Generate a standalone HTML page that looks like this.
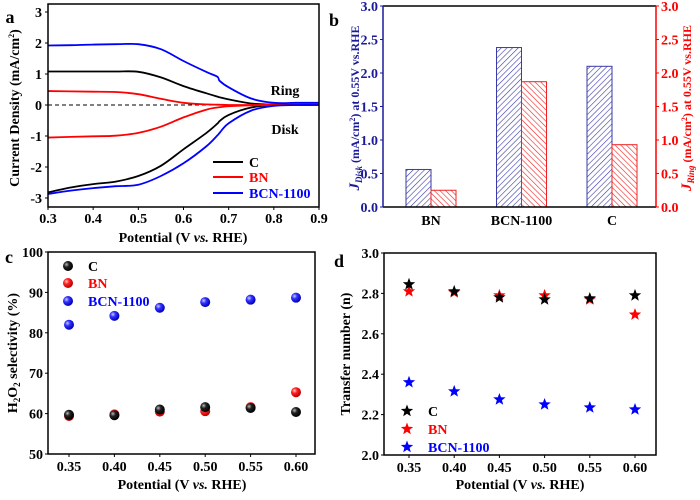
<!DOCTYPE html>
<html><head><meta charset="utf-8"><style>
html,body{margin:0;padding:0;background:#fff;}
svg text{font-family:"Liberation Serif",serif;font-weight:bold;}
</style></head><body>
<svg id="fig" width="700" height="495" viewBox="0 0 700 495" xmlns="http://www.w3.org/2000/svg">
<defs>
<pattern id="hatchB" width="4" height="4" patternUnits="userSpaceOnUse" patternTransform="rotate(45)"><line x1="0" y1="0" x2="0" y2="4" stroke="#3a3aa8" stroke-width="1.2"/></pattern>
<pattern id="hatchR" width="4" height="4" patternUnits="userSpaceOnUse" patternTransform="rotate(-45)"><line x1="0" y1="0" x2="0" y2="4" stroke="#f02020" stroke-width="1.2"/></pattern>
<radialGradient id="gK" cx="35%" cy="35%" r="65%"><stop offset="0" stop-color="#bbb"/><stop offset="0.4" stop-color="#222"/><stop offset="1" stop-color="#000"/></radialGradient>
<radialGradient id="gR" cx="35%" cy="35%" r="65%"><stop offset="0" stop-color="#fcc"/><stop offset="0.4" stop-color="#f22"/><stop offset="1" stop-color="#b00"/></radialGradient>
<radialGradient id="gB" cx="35%" cy="35%" r="65%"><stop offset="0" stop-color="#ccf"/><stop offset="0.4" stop-color="#33f"/><stop offset="1" stop-color="#00b"/></radialGradient>
</defs>
</svg>
<script>
// ---- Panel a data ----
const aX = [0.30,0.35,0.40,0.45,0.50,0.55,0.60,0.65,0.675,0.68,0.70,0.75,0.80,0.85,0.90];
const aCRing = [1.08,1.08,1.08,1.08,1.07,0.89,0.61,0.38,0.27,0.25,0.18,0.05,0.01,0.01,0.01];
const aBNRing = [0.45,0.44,0.43,0.42,0.35,0.20,0.07,0.02,0.01,0.01,0.00,0.00,0.00,0.00,0.00];
const aBCNRing = [1.92,1.93,1.95,1.96,1.96,1.80,1.42,1.07,0.91,0.78,0.57,0.21,0.07,0.07,0.07];
const aCDisk = [-2.82,-2.66,-2.55,-2.47,-2.29,-1.96,-1.43,-0.91,-0.6,-0.52,-0.32,-0.08,0.0,0.0,0.0];
const aBNDisk = [-1.05,-1.03,-1.01,-0.99,-0.90,-0.70,-0.40,-0.15,-0.08,-0.07,-0.04,-0.01,0.0,0.0,0.0];
const aBCNDisk = [-2.87,-2.76,-2.68,-2.62,-2.57,-2.29,-1.88,-1.34,-0.98,-0.9,-0.59,-0.18,-0.03,0.0,0.0];
const aXTicks = [0.3,0.4,0.5,0.6,0.7,0.8,0.9];
const aYTicks = [-3,-2,-1,0,1,2,3];
// ---- Panel b data ----
const bCats = ["BN","BCN-1100","C"];
const bDisk = [0.56,2.38,2.10];
const bRing = [0.25,1.87,0.93];
const bYTicks = ["0.0","0.5","1.0","1.5","2.0","2.5","3.0"];
// ---- Panel c/d data ----
const cdX = [0.35,0.40,0.45,0.50,0.55,0.60];
const cC = [59.7,59.6,61.0,61.6,61.4,60.4];
const cBN = [59.4,59.8,60.5,60.6,61.6,65.3];
const cBCN = [82.0,84.2,86.2,87.6,88.2,88.7];
const cYTicks = [50,60,70,80,90,100];
const dC = [2.845,2.81,2.78,2.77,2.775,2.79];
const dBN = [2.81,2.805,2.79,2.79,2.77,2.695];
const dBCN = [2.36,2.315,2.275,2.25,2.235,2.225];
const dYTicks = ["2.0","2.2","2.4","2.6","2.8","3.0"];
const cdXTicks = ["0.35","0.40","0.45","0.50","0.55","0.60"];

const svg = document.getElementById('fig');
const NS = 'http://www.w3.org/2000/svg';
const TF = 14;
function mk(tag, attrs, parent){const e=document.createElementNS(NS,tag);for(const k in attrs)e.setAttribute(k,attrs[k]);(parent||svg).appendChild(e);return e;}
function txt(s,x,y,size,fill,anchor,parent){const t=mk('text',{x:x,y:y,'font-size':size,fill:fill||'#000','text-anchor':anchor||'middle'},parent);t.textContent=s;return t;}
function lin(d0,d1,r0,r1){return v=>r0+(v-d0)/(d1-d0)*(r1-r0);}
function smooth(pts){let d='M'+pts[0][0]+','+pts[0][1];for(let i=0;i<pts.length-1;i++){const p0=pts[Math.max(0,i-1)],p1=pts[i],p2=pts[i+1],p3=pts[Math.min(pts.length-1,i+2)];
 const c1=[p1[0]+(p2[0]-p0[0])/6,p1[1]+(p2[1]-p0[1])/6],c2=[p2[0]-(p3[0]-p1[0])/6,p2[1]-(p3[1]-p1[1])/6];
 d+=' C'+c1[0].toFixed(1)+','+c1[1].toFixed(1)+' '+c2[0].toFixed(1)+','+c2[1].toFixed(1)+' '+p2[0].toFixed(1)+','+p2[1].toFixed(1);}return d;}

// ===== Panel a =====
{
const g=mk('g',{});
const X=lin(0.3,0.9,48,319), Y=lin(0,1,105,74);
const L=48,R=319,T=4,B=207;
const lines=[[aCRing,'#000'],[aBNRing,'#f00'],[aBCNRing,'#00f'],[aCDisk,'#000'],[aBNDisk,'#f00'],[aBCNDisk,'#00f']];
const names=['c-ring-curve','bn-ring-curve','bcn-ring-curve','c-disk-curve','bn-disk-curve','bcn-disk-curve'];
mk('line',{x1:L,y1:Y(0),x2:R,y2:Y(0),stroke:'#000','stroke-dasharray':'4,3','stroke-width':1},g);
lines.forEach((l,i)=>{const p=mk('path',{d:smooth(aX.map((x,j)=>[X(x),Y(l[0][j])])),fill:'none',stroke:l[1],'stroke-width':1.8},g);});
mk('rect',{x:L,y:T,width:R-L,height:B-T,fill:'none',stroke:'#000','stroke-width':1.5},g);
aXTicks.forEach(v=>{mk('line',{x1:X(v),y1:B,x2:X(v),y2:B+3,stroke:'#000'},g);txt(v.toFixed(1),X(v),B+16,TF,'#000','middle',g);});
aYTicks.forEach(v=>{mk('line',{x1:L-3,y1:Y(v),x2:L,y2:Y(v),stroke:'#000'},g);txt(String(v),L-6,Y(v)+5,TF,'#000','end',g);});
const xt=txt('',183,242,14,'#000','middle',g);xt.innerHTML='Potential (V <tspan font-style="italic">vs.</tspan> RHE)';
const yt=txt('',0,0,14,'#000','middle',g);yt.setAttribute('transform','translate(19,108) rotate(-90)');yt.innerHTML='Current Density (mA/cm<tspan font-size="8" dy="-5">2</tspan><tspan dy="5">)</tspan>';
txt('a',10,23,18,'#000','middle',g);
txt('Ring',285,95,14,'#000','middle',g);txt('Disk',285,134,14,'#000','middle',g);
[['C','#000',162],['BN','#f00',177],['BCN-1100','#00f',193]].forEach(l=>{const lg=mk('g',{},g);mk('line',{x1:213,y1:l[2],x2:243,y2:l[2],stroke:l[1],'stroke-width':2},lg);txt(l[0],249,l[2]+5,14,l[1],'start',lg);});
}

// ===== Panel b =====
{
const g=mk('g',{});
const L=383,R=656,T=6,B=207;
const Y=lin(0,3,B,T);
const cx=i=>431+i*90.5;
bCats.forEach((c,i)=>{
 const b1=mk('rect',{x:cx(i)-25,y:Y(bDisk[i]),width:25,height:B-Y(bDisk[i]),fill:'url(#hatchB)',stroke:'#3a3aa8','stroke-width':1},g);
 
 const b2=mk('rect',{x:cx(i),y:Y(bRing[i]),width:25,height:B-Y(bRing[i]),fill:'url(#hatchR)',stroke:'#f02020','stroke-width':1},g);
 
 txt(c,cx(i),B+18,TF,'#000','middle',g);
});
mk('line',{x1:L,y1:T,x2:R,y2:T,stroke:'#000','stroke-width':1.5},g);
mk('line',{x1:L,y1:B,x2:R,y2:B,stroke:'#000','stroke-width':1.5},g);
mk('line',{x1:L,y1:T,x2:L,y2:B,stroke:'#1a1a9a','stroke-width':1.5},g);
mk('line',{x1:R,y1:T,x2:R,y2:B,stroke:'#f00','stroke-width':1.5},g);
bYTicks.forEach(s=>{const v=parseFloat(s);mk('line',{x1:L-3,y1:Y(v),x2:L,y2:Y(v),stroke:'#1a1a9a'},g);txt(s,L-5,Y(v)+5,TF,'#1a1a9a','end',g);
 mk('line',{x1:R,y1:Y(v),x2:R+3,y2:Y(v),stroke:'#f00'},g);txt(s,R+5,Y(v)+5,TF,'#f00','start',g);});
const yl=txt('',0,0,12,'#1a1a9a','middle',g);yl.setAttribute('transform','translate(359,108) rotate(-90)');yl.innerHTML='<tspan font-style="italic" font-size="15">J</tspan><tspan font-style="italic" font-size="9" dy="3">Disk</tspan><tspan dy="-3"> (mA/cm</tspan><tspan font-size="8" dy="-4">2</tspan><tspan dy="4">) at 0.55V vs.RHE</tspan>';
const yr=txt('',0,0,12,'#f00','middle',g);yr.setAttribute('transform','translate(691,108) rotate(-90)');yr.innerHTML='<tspan font-style="italic" font-size="15">J</tspan><tspan font-style="italic" font-size="9" dy="3">Ring</tspan><tspan dy="-3"> (mA/cm</tspan><tspan font-size="8" dy="-4">2</tspan><tspan dy="4">) at 0.55V vs.RHE</tspan>';
txt('b',334,26,18,'#000','middle',g);
}

// ===== Panel c =====
{
const g=mk('g',{});
const L=48,R=315,T=252,B=454;
const X=lin(0.35,0.60,69,296), Y=lin(50,100,B,T);
mk('rect',{x:L,y:T,width:R-L,height:B-T,fill:'none',stroke:'#000','stroke-width':1.5},g);
cdXTicks.forEach(s=>{const v=parseFloat(s);mk('line',{x1:X(v),y1:B,x2:X(v),y2:B+3,stroke:'#000'},g);txt(s,X(v),B+17,TF,'#000','middle',g);});
cYTicks.forEach(v=>{mk('line',{x1:L-3,y1:Y(v),x2:L,y2:Y(v),stroke:'#000'},g);txt(String(v),L-5,Y(v)+5,TF,'#000','end',g);});
[[cBCN,'gB','bcn'],[cBN,'gR','bn'],[cC,'gK','c']].forEach(s=>{cdX.forEach((x,j)=>{const c=mk('circle',{cx:X(x),cy:Y(s[0][j]),r:5,fill:'url(#'+s[1]+')'},g);});});
[['C','gK','#000',266],['BN','gR','#f00',283],['BCN-1100','gB','#00f',301]].forEach(l=>{const lg=mk('g',{},g);mk('circle',{cx:68,cy:l[3],r:5,fill:'url(#'+l[1]+')'},lg);txt(l[0],88,l[3]+5,14,l[2],'start',lg);});
const xt=txt('',182,489,14,'#000','middle',g);xt.innerHTML='Potential (V <tspan font-style="italic">vs.</tspan> RHE)';
const yt=txt('',0,0,14,'#000','middle',g);yt.setAttribute('transform','translate(17,353) rotate(-90)');yt.innerHTML='H<tspan font-size="9" dy="3">2</tspan><tspan dy="-3">O</tspan><tspan font-size="9" dy="3">2</tspan><tspan dy="-3"> selectivity (%)</tspan>';
txt('c',9,263,18,'#000','middle',g);
}

// ===== Panel d =====
{
const g=mk('g',{});
const L=384,R=656,T=253,B=455;
const X=lin(0.35,0.60,409,635), Y=lin(2,3,B,T);
function star(cx,cy,r){let p=[];for(let k=0;k<10;k++){const a=-Math.PI/2+k*Math.PI/5;const rr=k%2?r*0.42:r;p.push((cx+rr*Math.cos(a)).toFixed(1)+','+(cy+rr*Math.sin(a)).toFixed(1));}return p.join(' ');}
mk('rect',{x:L,y:T,width:R-L,height:B-T,fill:'none',stroke:'#000','stroke-width':1.5},g);
cdXTicks.forEach(s=>{const v=parseFloat(s);mk('line',{x1:X(v),y1:B,x2:X(v),y2:B+3,stroke:'#000'},g);txt(s,X(v),B+17,TF,'#000','middle',g);});
dYTicks.forEach(s=>{const v=parseFloat(s);mk('line',{x1:L-3,y1:Y(v),x2:L,y2:Y(v),stroke:'#000'},g);txt(s,L-5,Y(v)+5,TF,'#000','end',g);});
[[dBCN,'#00f','bcn'],[dBN,'#f00','bn'],[dC,'#000','c']].forEach(s=>{cdX.forEach((x,j)=>{const c=mk('polygon',{points:star(X(x),Y(s[0][j]),6.5),fill:s[1]},g);});});
[['C','#000',411],['BN','#f00',429],['BCN-1100','#00f',447]].forEach(l=>{const lg=mk('g',{},g);mk('polygon',{points:star(407,l[2],6.5),fill:l[1]},lg);txt(l[0],428,l[2]+5,14,l[1],'start',lg);});
const xt=txt('',520,489,14,'#000','middle',g);xt.innerHTML='Potential (V <tspan font-style="italic">vs.</tspan> RHE)';
const yt=txt('Transfer number (n)',0,0,14,'#000','middle',g);yt.setAttribute('transform','translate(350,354) rotate(-90)');
txt('d',339,267,18,'#000','middle',g);
}
</script>
</body></html>
